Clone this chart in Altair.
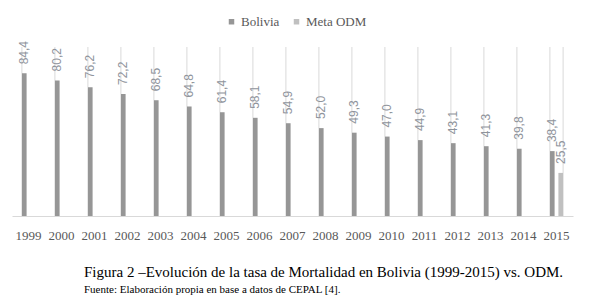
import altair as alt
import pandas as pd

years = [str(y) for y in range(1999, 2016)]
bolivia = [84.4, 80.2, 76.2, 72.2, 68.5, 64.8, 61.4, 58.1, 54.9, 52.0, 49.3, 47.0, 44.9, 43.1, 41.3, 39.8, 38.4]
meta_year = ["2015"]
meta_odm = [25.5]
series = ["Bolivia", "Meta ODM"]
colors = ["#969696", "#c0c0c0"]

rows = [{"year": y, "serie": "Bolivia", "valor": v} for y, v in zip(years, bolivia)]
rows += [{"year": y, "serie": "Meta ODM", "valor": v} for y, v in zip(meta_year, meta_odm)]
df = pd.DataFrame(rows)
df["label"] = df["valor"].map(lambda v: f"{v:.1f}".replace(".", ","))

W, H = 561, 169
SERIF = "Liberation Serif"

xscale = alt.Scale(domain=years, paddingInner=0.6, paddingOuter=0.3)
yscale = alt.Scale(domain=[0, 100])

grid_df = pd.DataFrame({"year": years, "y0": 0, "y1": 100})
grid = alt.Chart(grid_df).mark_rule(color="#d9d9d9", strokeWidth=1).encode(
    x=alt.X("year:N", scale=xscale, bandPosition=0,
            axis=alt.Axis(title=None, labelAngle=0, ticks=False, grid=False,
                          domainColor="#d9d9d9", labelFont=SERIF,
                          labelFontSize=13, labelColor="#595959", labelPadding=13,
                          bandPosition=0.5)),
    y=alt.Y("y0:Q", scale=yscale, axis=None),
    y2="y1:Q",
)
grid_end = alt.Chart(grid_df.tail(1)).mark_rule(color="#d9d9d9", strokeWidth=1).encode(
    x=alt.X("year:N", scale=xscale, bandPosition=1),
    y=alt.Y("y0:Q", scale=yscale),
    y2="y1:Q",
)

color = alt.Color("serie:N", scale=alt.Scale(domain=series, range=colors),
                  legend=alt.Legend(title=None, orient="none", direction="horizontal",
                                    legendX=213, legendY=-32,
                                    symbolType="square", symbolSize=30,
                                    labelFont=SERIF, labelFontSize=13, labelColor="#595959",
                                    labelOffset=3, columnPadding=10))

layers = [grid, grid_end]
offsets = {"Bolivia": -4.2, "Meta ODM": 4.2}
for s in series:
    sub = alt.Chart(df).transform_filter(alt.datum.serie == s)
    layers.append(sub.mark_bar(width=4.6, xOffset=offsets[s]).encode(
        x=alt.X("year:N", scale=xscale),
        y=alt.Y("valor:Q", scale=yscale),
        color=color,
    ))
    layers.append(sub.mark_text(angle=270, align="left", baseline="middle", dx=9,
                                xOffset=offsets[s], font="Liberation Sans", fontSize=12,
                                color="#8f949c").encode(
        x=alt.X("year:N", scale=xscale),
        y=alt.Y("valor:Q", scale=yscale),
        text="label:N",
    ))

chart = alt.layer(*layers).properties(
    width=W, height=H,
    autosize=alt.AutoSizeParams(type="none"),
    padding={"left": 12, "top": 47, "right": 21, "bottom": 82},
    title=alt.TitleParams(
        text="Figura 2 –Evolución de la tasa de Mortalidad en Bolivia (1999-2015) vs. ODM.",
        subtitle="Fuente: Elaboración propia en base a datos de CEPAL [4].",
        orient="bottom", anchor="start", dx=72, offset=23,
        font=SERIF, fontSize=15, fontWeight="normal", color="#000000",
        subtitleFont=SERIF, subtitleFontSize=11, subtitleColor="#000000",
        subtitlePadding=4,
    ),
).configure(background="white", font=SERIF).configure_view(stroke=None).configure_legend(
    labelFont=SERIF
).configure_title(font=SERIF, subtitleFont=SERIF)

chart.save("out.html", embed_options={"renderer": "svg", "actions": False})
